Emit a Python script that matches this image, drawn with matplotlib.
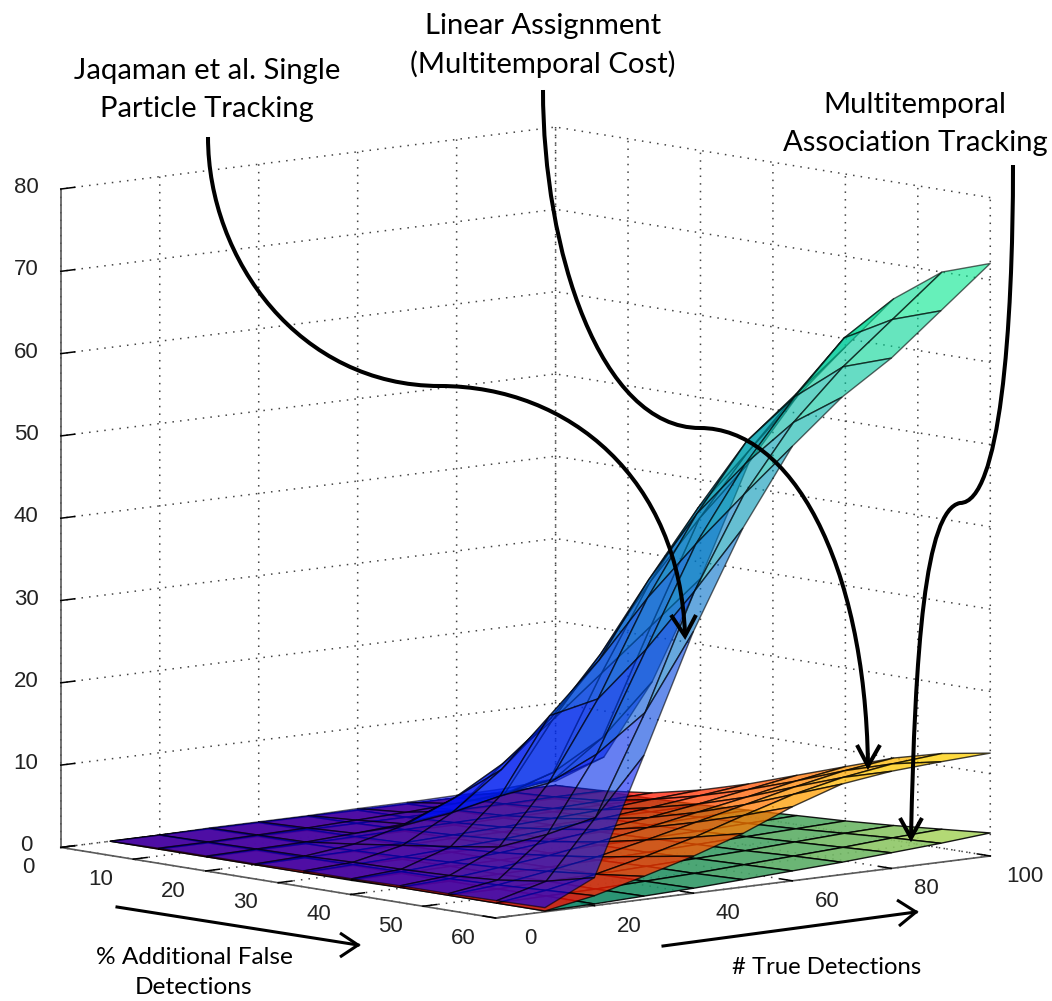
"""
Tracking error surfaces with hand drawn callouts
"""
import numpy as np
import matplotlib
matplotlib.use("Agg")
import matplotlib.pyplot as plt
from matplotlib.path import Path
from matplotlib.patches import PathPatch
from mpl_toolkits.mplot3d import Axes3D, proj3d  # noqa: F401

# Data
false_pct = [0, 6.67, 13.33, 20, 26.67, 33.33, 40, 46.67, 53.33, 60]
true_det = [10, 20, 30, 40, 50, 60, 70, 80, 90, 100]

jaqaman = [
    [0.0, 0.0, 0.1, 0.1, 0.1, 0.2, 0.2, 0.3, 0.4, 0.5],
    [0.1, 0.1, 0.2, 0.3, 0.5, 0.7, 1.0, 1.5, 2.5, 4.4],
    [0.1, 0.2, 0.3, 0.6, 1.0, 1.8, 3.0, 5.0, 8.5, 14.5],
    [0.1, 0.3, 1.0, 2.5, 5.0, 8.5, 13.0, 18.0, 23.0, 28.0],
    [0.2, 0.5, 1.8, 5.0, 9.5, 15.0, 22.0, 30.0, 37.0, 43.0],
    [0.2, 0.6, 2.6, 8.0, 17.0, 23.0, 32.0, 40.0, 46.0, 52.0],
    [0.3, 0.8, 3.5, 10.5, 20.0, 31.5, 41.0, 49.0, 54.0, 59.0],
    [0.3, 1.2, 6.0, 15.0, 27.0, 39.0, 48.0, 55.4, 61.8, 65.8],
    [0.4, 2.0, 9.0, 21.0, 35.0, 46.0, 54.0, 60.0, 65.0, 70.0],
    [0.5, 3.4, 17.5, 31.8, 43.6, 52.8, 58.0, 62.0, 67.0, 72.0],
]
linear_assign = [
    [0.0, 0.0, 0.0, 0.0, 0.0, 0.0, 0.0, 0.0, 0.0, 0.0],
    [0.0, 0.0, 0.1, 0.1, 0.1, 0.1, 0.2, 0.2, 0.3, 0.3],
    [0.0, 0.1, 0.1, 0.2, 0.3, 0.4, 0.5, 0.6, 0.8, 1.0],
    [0.0, 0.1, 0.2, 0.4, 0.6, 0.8, 1.1, 1.4, 1.9, 2.3],
    [0.0, 0.2, 0.4, 0.7, 1.0, 1.5, 2.0, 2.6, 3.3, 4.0],
    [0.1, 0.3, 0.7, 1.1, 1.7, 2.4, 3.1, 4.0, 5.0, 6.0],
    [0.1, 0.4, 1.0, 1.7, 2.6, 3.6, 4.7, 5.8, 7.0, 8.0],
    [0.1, 0.6, 1.5, 2.5, 3.8, 5.2, 6.6, 8.0, 9.2, 10.0],
    [0.1, 0.9, 2.1, 3.5, 5.1, 7.0, 8.8, 10.1, 11.0, 11.5],
    [0.1, 1.2, 2.8, 4.5, 6.5, 9.0, 11.0, 11.8, 12.2, 12.5],
]
multitemporal = [
    [0.0, 0.0, 0.0, 0.0, 0.0, 0.0, 0.0, 0.0, 0.0, 0.0],
    [0.0, 0.0, 0.0, 0.0, 0.1, 0.1, 0.1, 0.1, 0.1, 0.2],
    [0.0, 0.0, 0.1, 0.1, 0.1, 0.1, 0.2, 0.2, 0.3, 0.3],
    [0.0, 0.1, 0.1, 0.1, 0.2, 0.2, 0.3, 0.4, 0.4, 0.5],
    [0.0, 0.1, 0.1, 0.2, 0.3, 0.3, 0.4, 0.5, 0.7, 0.8],
    [0.0, 0.1, 0.2, 0.2, 0.3, 0.5, 0.6, 0.7, 0.9, 1.1],
    [0.1, 0.1, 0.2, 0.3, 0.4, 0.6, 0.8, 1.0, 1.2, 1.4],
    [0.1, 0.1, 0.3, 0.4, 0.6, 0.8, 1.0, 1.3, 1.6, 1.8],
    [0.1, 0.2, 0.3, 0.5, 0.7, 1.0, 1.3, 1.6, 2.0, 2.3],
    [0.1, 0.2, 0.4, 0.6, 0.9, 1.2, 1.5, 1.9, 2.3, 2.8],
]

x_ticks = [0, 10, 20, 30, 40, 50, 60]
y_ticks = [0, 20, 40, 60, 80, 100]
z_ticks = [0, 10, 20, 30, 40, 50, 60, 70, 80]

plt.rcParams['font.family'] = ['Liberation Sans', 'DejaVu Sans']
AXIS_GREY = '#5a5a5a'
TICK_TEXT = '#222222'
TICK_SIZE = 16
TEXT_FONT = ['Lato', 'DejaVu Sans']


def draw_surface(ax, z_values, cmap, alpha, order, vmax):
    """Draw one surface over the shared grid"""
    X, Y = np.meshgrid(false_pct, true_det, indexing='ij')
    Z = np.array(z_values)
    surf = ax.plot_surface(X, Y, Z, rstride=1, cstride=1, cmap=cmap, alpha=alpha, vmin=0, vmax=vmax,
                           edgecolor='k', linewidth=1.0, shade=False, antialiased=True)
    surf.set_zorder(order)
    return surf


def style_axis(axis, ticks):
    """MATLAB look: no panes, dotted grid, short outward ticks"""
    axis.set_ticks(ticks)
    axis.set_major_formatter(plt.NullFormatter())
    axis.label.set_visible(False)
    axis.offsetText.set_visible(False)
    axis.set_pane_color((1, 1, 1, 0))
    axis.pane.set_edgecolor((1, 1, 1, 0))
    axis.line.set_color(AXIS_GREY)
    axis.line.set_linewidth(1.2)
    axis._axinfo['grid'].update(color='#444444', linestyle=(0, (1, 4)), linewidth=1.1)
    axis._axinfo['tick'].update(inward_factor=0.0, outward_factor=0.35, linewidth={True: 1.1, False: 1.1},
                                color=AXIS_GREY)
    for tick in axis.get_major_ticks():
        tick.label1.set_visible(False)
        tick.label2.set_visible(False)


def tick_text(ax, x, y, z, value):
    # mplot3d resets tick label transforms, so project the spot and use a plain 2D text
    px, py, _ = proj3d.proj_transform(x, y, z, ax.get_proj())
    ax.text2D(px, py, str(value), transform=ax.transData, ha='center', va='center',
              fontsize=TICK_SIZE, color=TICK_TEXT)


def curve(ax, points, lw=2.9):
    """Draw a cubic bezier chain, points are pixel positions"""
    codes = [Path.MOVETO] + [Path.CURVE4] * (len(points) - 1)
    ax.add_patch(PathPatch(Path(points, codes), fc='none', ec='k', lw=lw, capstyle='butt', joinstyle='round'))


def chevron(ax, tip, left, right, lw=2.9):
    ax.plot([left[0], tip[0], right[0]], [left[1], tip[1], right[1]], color='k', lw=lw,
            solid_joinstyle='miter', solid_capstyle='butt')


def label(ax, x, y, text, size=21.1):
    ax.text(x, y, text, ha='center', va='center', fontsize=size, family=TEXT_FONT, color='k')


def main():
    fig = plt.figure(figsize=(10.52, 10.01), dpi=100, facecolor='white')
    ax = fig.add_axes([-0.0133, -0.0355, 1, 1], projection='3d', proj_type='ortho')
    ax.computed_zorder = False
    ax.view_init(elev=8.2, azim=-41.3)
    ax.set_box_aspect((1, 1, 1.01), zoom=1.11)
    ax.patch.set_alpha(0)

    draw_surface(ax, multitemporal, 'summer', 0.9, 1, 3.5)
    draw_surface(ax, linear_assign, 'autumn', 0.75, 2, 14.5)
    draw_surface(ax, jaqaman, 'winter', 0.6, 3, 76)

    ax.set_xlim(0, 60, view_margin=0)
    ax.set_ylim(0, 100, view_margin=0)
    ax.set_zlim(0, 80, view_margin=0)

    style_axis(ax.xaxis, x_ticks)
    style_axis(ax.yaxis, y_ticks)
    style_axis(ax.zaxis, z_ticks)
    ax.zaxis.set_ticks_position('lower')

    for v in x_ticks:
        tick_text(ax, v, -6.5, -1.95, v)
    for v in y_ticks:
        tick_text(ax, 64.8, v, -1.8, v)
    for v in z_ticks:
        tick_text(ax, 0, -7.0, v + 0.7, v)

    # Overlay in pixel coordinates for the callouts
    over = fig.add_axes([0, 0, 1, 1], zorder=10)
    over.set_xlim(0, 1052)
    over.set_ylim(1001, 0)
    over.axis('off')

    label(over, 543, 26, 'Linear Assignment')
    label(over, 543, 64, '(Multitemporal Cost)')
    label(over, 207, 71, 'Jaqaman et al. Single')
    label(over, 207, 109, 'Particle Tracking')
    label(over, 915, 105, 'Multitemporal')
    label(over, 915, 143, 'Association Tracking')
    label(over, 194, 958, '% Additional False', size=17.6)
    label(over, 194, 988, 'Detections', size=17.6)
    label(over, 827, 968, '# True Detections', size=17.2)

    curve(over, [(208, 137), (208, 260), (300, 386), (440, 386),
                 (570, 386), (680, 480), (685, 635)])
    chevron(over, (685, 636), (671, 615), (696, 615))
    curve(over, [(543, 90), (543, 250), (600, 428), (700, 428),
                 (790, 428), (865, 560), (868, 765)])
    chevron(over, (868, 766), (857, 745), (880, 745))
    curve(over, [(1013, 165), (1013, 330), (1000, 503), (960, 503),
                 (925, 510), (915, 650), (911, 838)])
    chevron(over, (911, 838), (900, 818), (922, 818))

    over.plot([117, 358], [907, 945], color='k', lw=2.2)
    chevron(over, (358, 945), (340, 933), (340, 957), lw=2.2)
    over.plot([663, 916], [946, 912], color='k', lw=2.2)
    chevron(over, (916, 912), (897, 900), (899, 926), lw=2.2)

    fig.savefig('out.png', dpi=100)


if __name__ == "__main__":
    main()
